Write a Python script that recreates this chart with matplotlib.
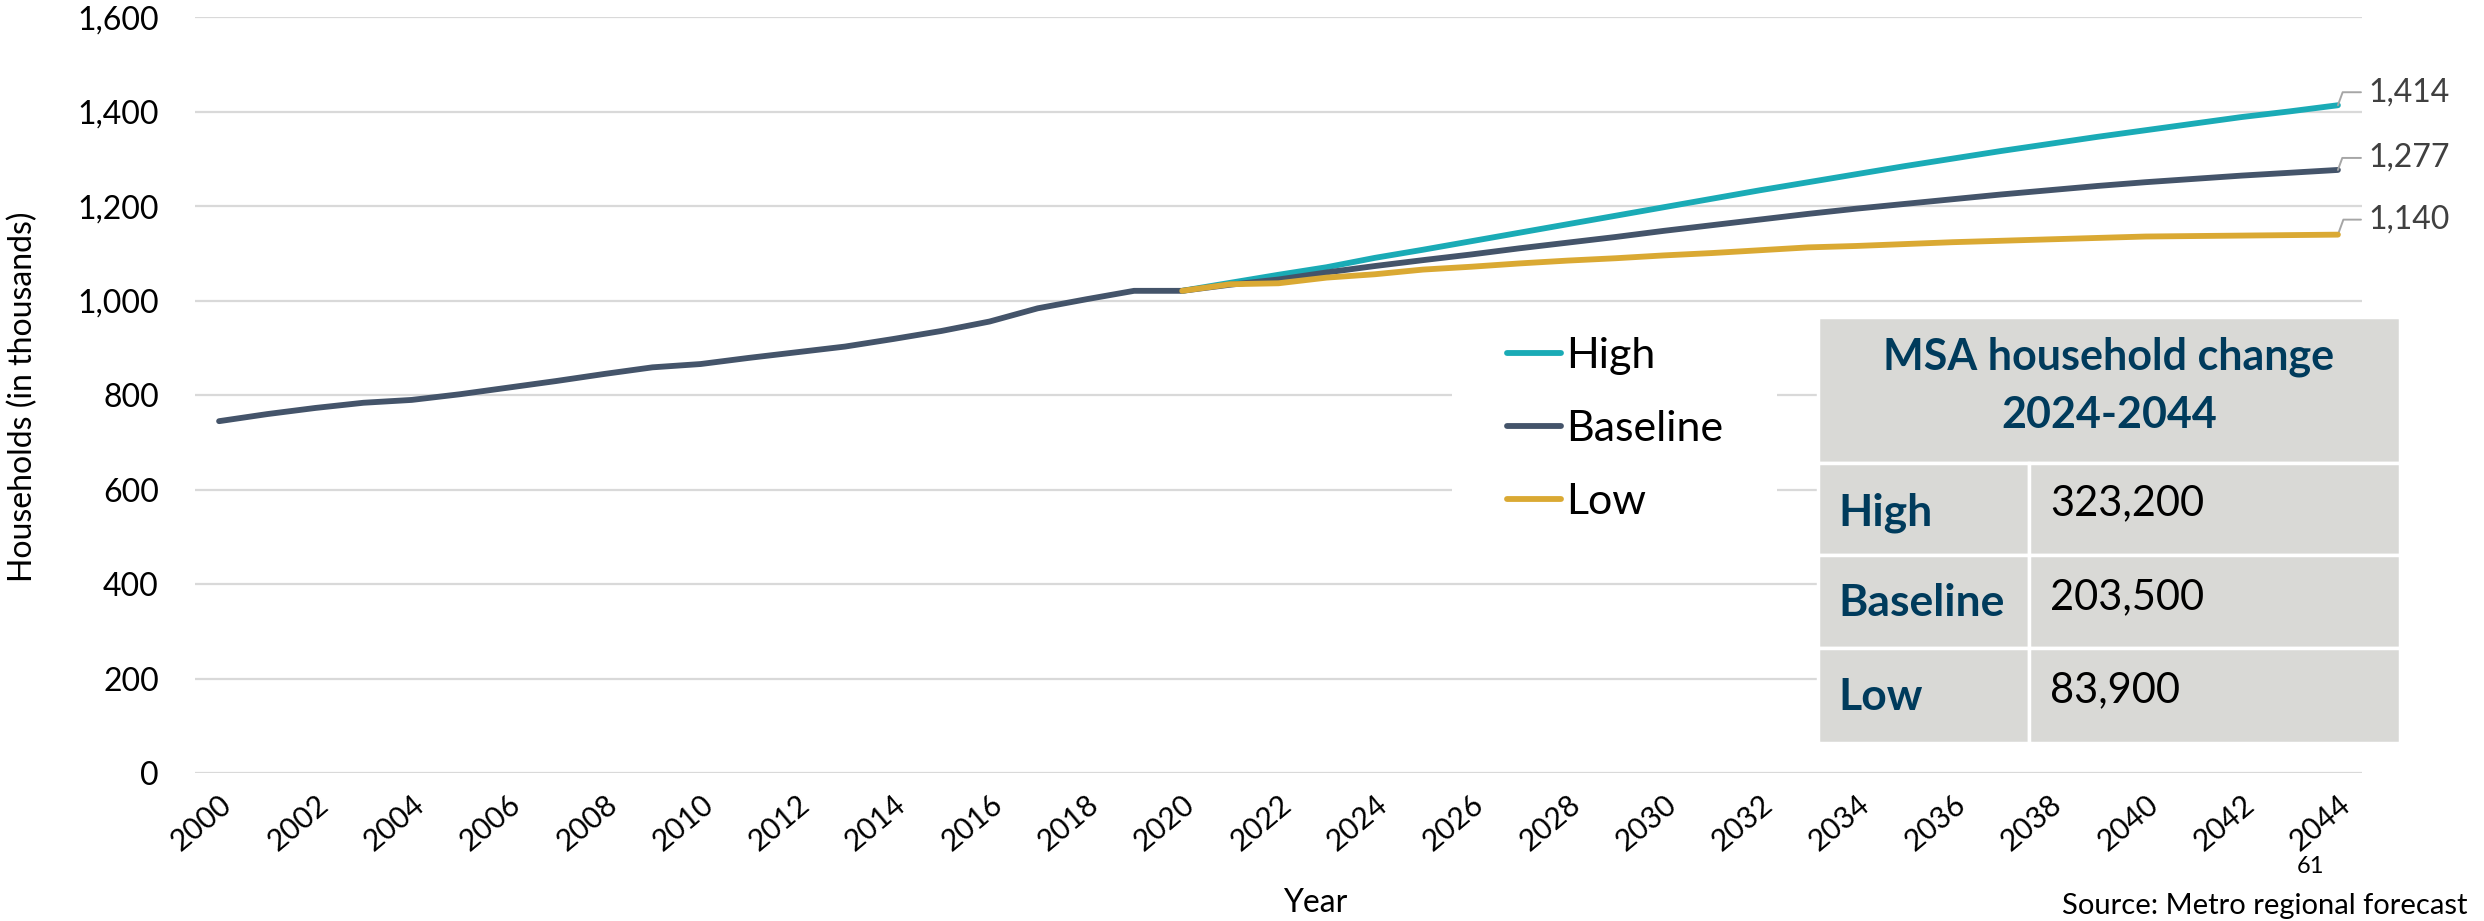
import numpy as np
import matplotlib
matplotlib.use('Agg')
import matplotlib.pyplot as plt
from matplotlib.patches import Rectangle

plt.rcParams['font.family'] = ['Lato', 'DejaVu Sans']

# households (thousands)
years = np.arange(2000, 2045)
baseline = [745, 760, 773, 784, 790, 802, 816, 830, 845, 859,
            866, 879, 891, 903, 919, 936, 956, 984, 1003, 1021,
            1021, 1034, 1045, 1060, 1073.5, 1086, 1098, 1111, 1123, 1135,
            1148, 1160, 1172, 1184, 1195, 1205, 1215, 1225, 1234, 1243,
            1251, 1258, 1265, 1271, 1277]
proj_years = np.arange(2020, 2045)
high = [1021, 1038, 1055, 1071, 1090.8, 1108, 1126, 1144, 1162, 1180,
        1198, 1216, 1234, 1251, 1268, 1285, 1301, 1317, 1332, 1347,
        1361, 1375, 1389, 1401, 1414]
low = [1021, 1035, 1037, 1049, 1056.1, 1066, 1072, 1079, 1085, 1090,
       1096, 1101, 1107, 1113, 1116, 1120, 1124, 1127, 1130, 1133,
       1136, 1137, 1138, 1139, 1140]

table_title = ['MSA household change', '2024-2044']
table_rows = ['High', 'Baseline', 'Low']
table_vals = ['323,200', '203,500', '83,900']

C_HIGH = '#1AABB6'
C_BASE = '#44546A'
C_LOW = '#DAA933'
NAVY = '#003B5C'
FS = 23
LW = 4.2

W, H = 2484, 921
fig = plt.figure(figsize=(W / 100, H / 100), dpi=100)
ax = fig.add_axes([195 / W, 1 - 773 / H, (2362 - 195) / W, (773 - 17.4) / H])

ax.plot(years, baseline, color=C_BASE, lw=LW, solid_capstyle='round', zorder=3, label='Baseline')
ax.plot(proj_years, high, color=C_HIGH, lw=LW, solid_capstyle='round', zorder=2, label='High')
ax.plot(proj_years, low, color=C_LOW, lw=LW, solid_capstyle='round', zorder=4, label='Low')

ax.set_xlim(1999.5, 2044.5)
ax.set_ylim(0, 1600)
ax.set_yticks(np.arange(0, 1601, 200))
ax.yaxis.set_major_formatter(matplotlib.ticker.FuncFormatter(lambda v, p: f'{v:,.0f}'))
ax.set_xticks(years[::2])
ax.set_xticklabels([str(y) for y in years[::2]], rotation=40, ha='right', va='top',
                   rotation_mode='anchor')
ax.tick_params(axis='y', length=0, pad=26, labelsize=FS)
ax.tick_params(axis='x', length=0, pad=12, labelsize=21.5)
ax.grid(axis='y', color='#D9D9D9', lw=1.6)
ax.set_axisbelow(True)
for s in ax.spines.values():
    s.set_visible(False)

# end-of-line value labels with leader lines
for ser, yoff in [(high, 13), (baseline, 12), (low, 15)]:
    v = ser[-1]
    ax.annotate(f'{v:,.0f}', xy=(2044, v), xytext=(30, yoff), textcoords='offset pixels',
                fontsize=FS, color='#404040', ha='left', va='center',
                arrowprops=dict(arrowstyle='-', color='#A6A6A6', lw=1.4,
                                connectionstyle='angle,angleA=0,angleB=70,rad=0',
                                relpos=(0, 0.5), shrinkA=3, shrinkB=0))

# white area behind legend
ax.add_patch(Rectangle((1452 / W, 1 - 560 / H), 325 / W, 240 / H, transform=fig.transFigure,
                       facecolor='white', edgecolor='none', zorder=1))
handles, labels = ax.get_legend_handles_labels()
order = [1, 0, 2]
ax.legend([handles[i] for i in order], [labels[i] for i in order],
          loc='center left', bbox_to_anchor=(1507 / W, 1 - 429 / H), bbox_transform=fig.transFigure,
          frameon=False, fontsize=31, handlelength=1.25, handletextpad=0.12,
          labelspacing=0.82, borderpad=0, borderaxespad=0)

# summary table
tx0, tx1, tcol = 1818, 2400, 2029
ty = [317, 463, 555, 648, 743]
bg = '#D9D9D6'
fig.add_artist(Rectangle((tx0 / W, 1 - ty[1] / H), (tx1 - tx0) / W, (ty[1] - ty[0]) / H,
                         transform=fig.transFigure, facecolor=bg, edgecolor='white', lw=2.5, zorder=5))
for i in range(3):
    y0, y1 = ty[i + 1], ty[i + 2]
    for xa, xb in [(tx0, tcol), (tcol, tx1)]:
        fig.add_artist(Rectangle((xa / W, 1 - y1 / H), (xb - xa) / W, (y1 - y0) / H,
                                 transform=fig.transFigure, facecolor=bg, edgecolor='white',
                                 lw=2.5, zorder=5))
fig.text((tx0 + tx1) / 2 / W, 1 - 357 / H, table_title[0], ha='center', va='center',
         fontsize=31, fontweight='bold', color=NAVY, zorder=6)
fig.text((tx0 + tx1) / 2 / W, 1 - 415 / H, table_title[1], ha='center', va='center',
         fontsize=31, fontweight='bold', color=NAVY, zorder=6)
lab_y = [513, 603, 697]
val_y = [503, 597, 690]
for name, val, ly, vy in zip(table_rows, table_vals, lab_y, val_y):
    fig.text(1838 / W, 1 - ly / H, name, ha='left', va='center', fontsize=32,
             fontweight='bold', color=NAVY, zorder=6)
    fig.text(2050 / W, 1 - vy / H, val, ha='left', va='center', fontsize=30,
             color='black', zorder=6)

# axis titles and footer
fig.text(23 / W, 1 - 397 / H, 'Households (in thousands)', rotation=90, ha='center',
         va='center', fontsize=FS)
fig.text(1315 / W, 1 - 903 / H, 'Year', ha='center', va='center', fontsize=FS)
fig.text(2310 / W, 1 - 866 / H, '61', ha='center', va='center', fontsize=17)
fig.text(2062 / W, 2 / H, 'Source: Metro regional forecast', ha='left', va='bottom',
         fontsize=21)

fig.savefig('out.png', dpi=100)
